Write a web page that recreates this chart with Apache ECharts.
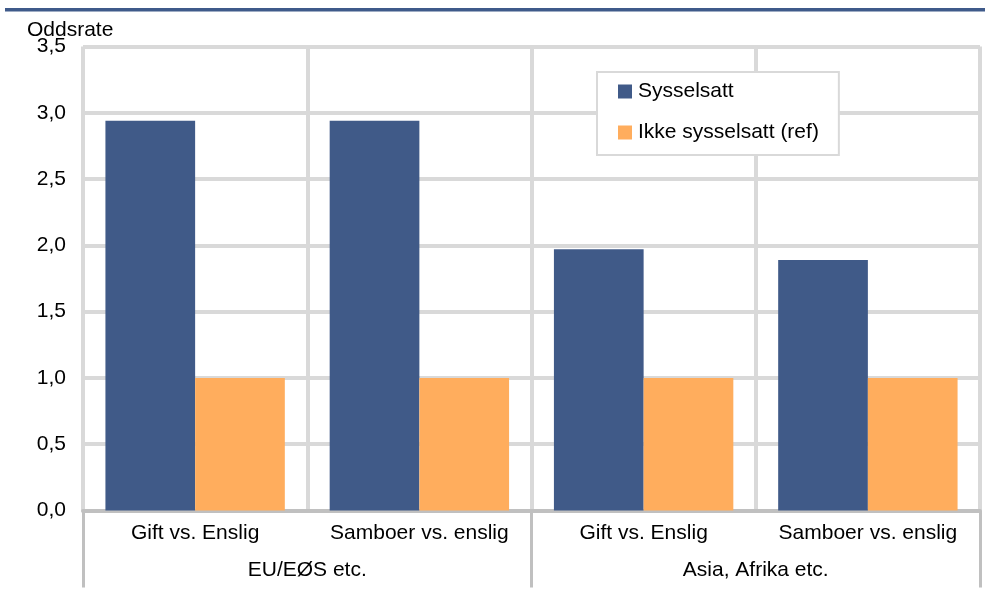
<!DOCTYPE html>
<html>
<head>
<meta charset="utf-8">
<script src="https://cdn.jsdelivr.net/npm/echarts@6/dist/echarts.min.js"></script>
<style>
html,body{margin:0;padding:0;background:#fff;}
#chart{width:985px;height:590px;}
</style>
</head>
<body>
<div id="chart"></div>
<script>
const categories = ['Gift vs. Enslig', 'Samboer vs. enslig', 'Gift vs. Enslig', 'Samboer vs. enslig'];
const groups = ['EU/EØS etc.', 'Asia, Afrika etc.'];
const seriesNames = ['Sysselsatt', 'Ikke sysselsatt (ref)'];
const sysselsatt = [2.94, 2.94, 1.97, 1.89];
const ikkeSysselsatt = [1.0, 1.0, 1.0, 1.0];
const yTicks = { min: 0, max: 3.5, interval: 0.5 };

const FONT = "'Liberation Sans', Arial, sans-serif";
const chart = echarts.init(document.getElementById('chart'), null, { renderer: 'canvas' });
const gridTop = 46.5, gridBottom = 79.5, gridLeft = 83, gridRight = 5;

chart.setOption({
  animation: false,
  backgroundColor: '#ffffff',
  textStyle: { fontFamily: FONT },
  title: {
    text: 'Oddsrate', left: 22, top: 15,
    textStyle: { fontFamily: FONT, fontSize: 21, fontWeight: 'normal', color: '#000' }
  },
  graphic: [{
    type: 'rect', shape: { x: 5, y: 8, width: 980, height: 3.5 },
    style: { fill: '#3F5A8A' }, silent: true
  }],
  legend: {
    data: seriesNames,
    orient: 'vertical',
    left: 597, top: 72,
    padding: [9, 20, 12, 21],
    itemWidth: 14, itemHeight: 14, itemGap: 20,
    backgroundColor: '#fff',
    borderColor: '#D9D9D9', borderWidth: 2,
    icon: 'rect',
    textStyle: { fontFamily: FONT, fontSize: 21, color: '#000', lineHeight: 21, padding: [0, 0, 0, 1] }
  },
  grid: { left: gridLeft, right: gridRight, top: gridTop, bottom: gridBottom, containLabel: false },
  xAxis: [{
    type: 'category',
    data: categories,
    position: 'bottom',
    axisLine: { show: true, lineStyle: { color: '#C0C0C0', width: 4 } },
    axisTick: { show: false },
    axisLabel: { interval: 0, margin: 12, fontSize: 21, color: '#000', fontFamily: FONT },
    splitLine: { show: true, interval: 0, lineStyle: { color: '#D9D9D9', width: 4 } }
  }, {
    type: 'category',
    data: groups,
    position: 'bottom',
    axisLine: { show: false },
    axisTick: { show: true, length: 77, lineStyle: { color: '#C0C0C0', width: 3 } },
    axisLabel: { interval: 0, margin: 49, fontSize: 21, color: '#000', fontFamily: FONT },
    splitLine: { show: false }
  }],
  yAxis: {
    type: 'value',
    min: yTicks.min, max: yTicks.max, interval: yTicks.interval,
    axisLine: { show: false },
    axisTick: { show: false },
    axisLabel: {
      margin: 17, fontSize: 21, color: '#000', fontFamily: FONT,
      formatter: v => v.toFixed(1).replace('.', ',')
    },
    splitLine: { show: true, lineStyle: { color: '#D9D9D9', width: 4 } }
  },
  series: [{
    name: seriesNames[0], type: 'bar', xAxisIndex: 0, data: sysselsatt,
    barGap: '0%', barCategoryGap: '20%',
    itemStyle: { color: '#405A88' }
  }, {
    name: seriesNames[1], type: 'bar', xAxisIndex: 0, data: ikkeSysselsatt,
    barGap: '0%', barCategoryGap: '20%',
    itemStyle: { color: '#FFAD5D' }
  }]
});
</script>
</body>
</html>
